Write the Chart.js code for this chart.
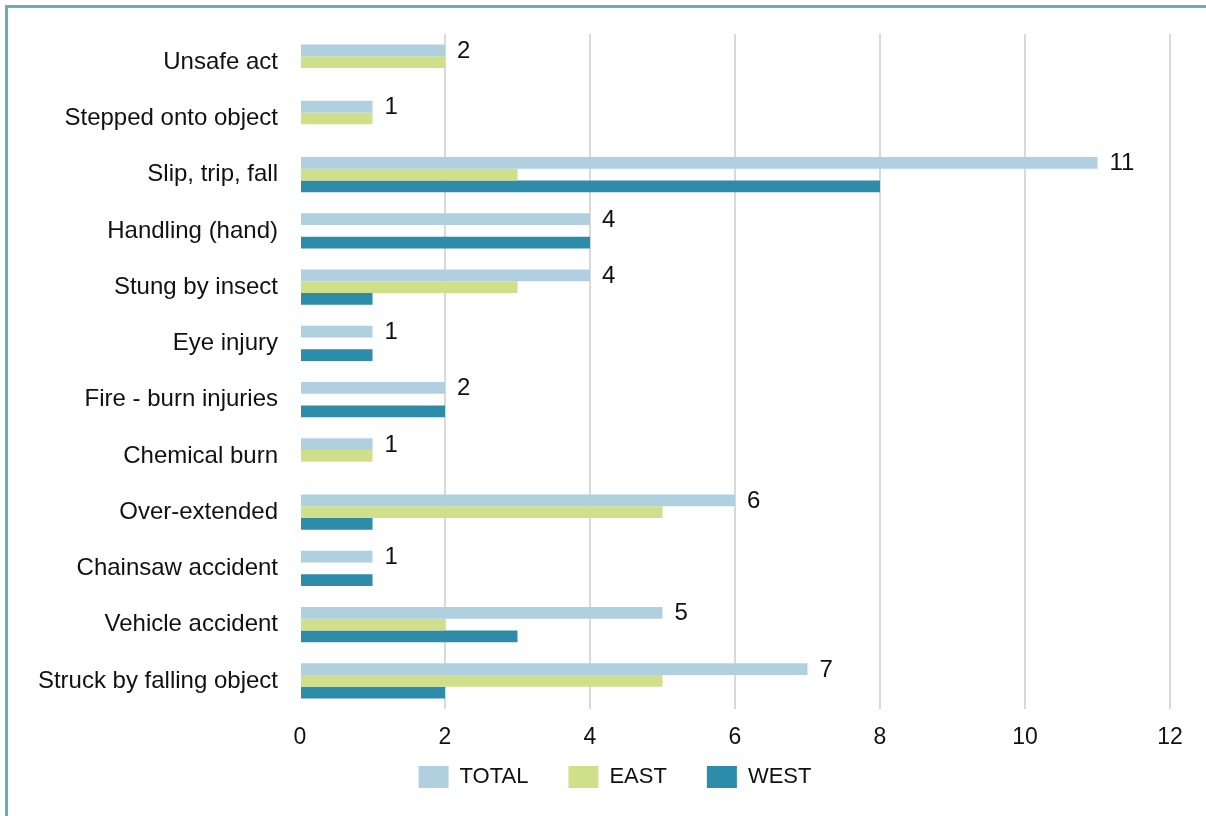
<!DOCTYPE html>
<html>
<head>
<meta charset="utf-8">
<script src="https://cdn.jsdelivr.net/npm/chart.js@4.4.0/dist/chart.umd.min.js"></script>
<style>
  html, body { margin: 0; padding: 0; background: #fff; }
  #wrap { position: relative; width: 1206px; height: 816px; overflow: hidden; }
  #frame { position: absolute; left: 5px; top: 5px; width: 1300px; height: 900px;
           border-left: 3px solid #6aafb0; border-top: 3px solid #6aafb0; pointer-events: none; }
  canvas { position: absolute; left: 0; top: 0; }
</style>
</head>
<body>
<div id="wrap">
  <canvas id="chart" width="1206" height="816"></canvas>
  <div id="frame"></div>
</div>
<script>
// Categories and series
const causes = [
  "Unsafe act", "Stepped onto object", "Slip, trip, fall", "Handling (hand)",
  "Stung by insect", "Eye injury", "Fire - burn injuries", "Chemical burn",
  "Over-extended", "Chainsaw accident", "Vehicle accident", "Struck by falling object"
];
const total = [2, 1, 11, 4, 4, 1, 2, 1, 6, 1, 5, 7];
const east  = [2, 1, 3, 0, 3, 0, 0, 1, 5, 0, 2, 5];
const west  = [0, 0, 8, 4, 1, 1, 2, 0, 1, 1, 3, 2];
const xTicks = [0, 2, 4, 6, 8, 10, 12];

const fontFamily = "'Liberation Sans', Arial, sans-serif";

// Draw the value at the end of each TOTAL bar
const totalLabels = {
  id: "totalLabels",
  afterDatasetsDraw(chart) {
    const ctx = chart.ctx;
    const meta = chart.getDatasetMeta(0);
    ctx.save();
    ctx.font = "24px " + fontFamily;
    ctx.fillStyle = "#111";
    ctx.textBaseline = "middle";
    ctx.textAlign = "left";
    meta.data.forEach((bar, i) => {
      ctx.fillText(String(total[i]), bar.x + 12, bar.y + 1);
    });
    ctx.restore();
  }
};

// Legend sits a bit higher and further right than Chart.js puts it
const legendNudge = {
  id: "legendNudge",
  beforeDraw(chart) {
    const lg = chart.legend;
    if (!lg) return;
    lg.top -= 23;
    lg.bottom -= 23;
    lg.left += 30;
    lg.right += 30;
  }
};

new Chart(document.getElementById("chart").getContext("2d"), {
  type: "bar",
  data: {
    labels: causes,
    datasets: [
      { label: "TOTAL", data: total, backgroundColor: "#b0d0e0" },
      { label: "EAST", data: east, backgroundColor: "#d0e08a" },
      { label: "WEST", data: west, backgroundColor: "#2e8cab" }
    ]
  },
  options: {
    indexAxis: "y",
    responsive: false,
    animation: false,
    layout: { padding: { top: 34, right: 36, bottom: -5, left: 0 } },
    datasets: { bar: { barPercentage: 1, categoryPercentage: 0.63 } },
    scales: {
      x: {
        min: 0,
        max: 12,
        afterBuildTicks(axis) { axis.ticks = xTicks.map(v => ({ value: v })); },
        afterFit(scale) { scale.height = 40; },
        border: { display: false },
        grid: {
          color: c => (c.tick && c.tick.value === 0 ? "rgba(0,0,0,0)" : "#d9d9d9"),
          lineWidth: 2,
          drawTicks: false
        },
        ticks: { color: "#111", font: { family: fontFamily, size: 23 }, padding: 15 }
      },
      y: {
        afterFit(scale) {
          scale.width = 300;
          scale.paddingTop = 0;
          scale.paddingBottom = 0;
        },
        border: { display: false },
        grid: { display: false, drawTicks: false },
        ticks: { color: "#111", font: { family: fontFamily, size: 24 }, padding: 22 }
      }
    },
    plugins: {
      legend: {
        position: "bottom",
        labels: {
          boxWidth: 30,
          boxHeight: 22,
          padding: 40,
          color: "#111",
          font: { family: fontFamily, size: 22 }
        }
      },
      tooltip: { enabled: false }
    }
  },
  plugins: [totalLabels, legendNudge]
});
</script>
</body>
</html>
